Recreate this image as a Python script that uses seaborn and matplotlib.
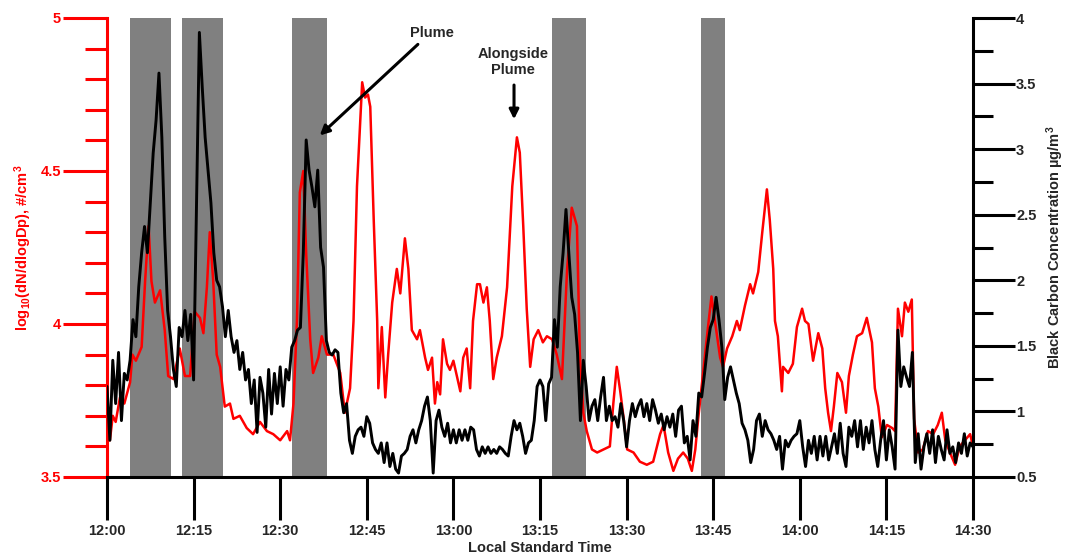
import matplotlib
matplotlib.use("Agg")
import matplotlib.pyplot as plt
from matplotlib.ticker import FixedLocator, MultipleLocator
import numpy as np
import pandas as pd
import seaborn as sns

# minutes after 12:00
time_labels = ["12:00", "12:15", "12:30", "12:45", "13:00", "13:15",
               "13:30", "13:45", "14:00", "14:15", "14:30"]
tick_minutes = [0, 15, 30, 45, 60, 75, 90, 105, 120, 135, 150]

# shaded plume-crossing periods (start, end) in minutes
band_start = [4.0, 13.0, 32.0, 77.1, 102.9]
band_end = [11.1, 20.1, 38.1, 83.0, 107.0]

# particle number, log10(dN/dlogDp)
red_min = [0, 0.5, 1, 1.5, 2.25, 3, 4, 4.4, 5, 6, 6.6, 7.2, 7.7, 8.3, 9.2, 10, 10.6, 11.5,
           12.6, 13.5, 14.4, 15.2, 16.1, 16.7, 17.3, 17.8, 18.4, 19.0, 19.6, 20.4, 21.3, 21.9,
           23, 24.2, 25.3, 26.5, 27.7, 28.8, 30, 31.2, 31.7, 32.3, 32.9, 33.4, 34, 34.5, 35.2,
           35.7, 36.6, 37.2, 38.1, 39.2, 40.4, 41.2, 42.1, 42.7, 43.3, 44.2, 44.7, 45.2, 45.6,
           46.2, 46.8, 47.0, 47.6, 48.2, 48.7, 49.4, 50.2, 50.8, 51.6, 52.2, 52.8, 53.7, 54.2,
           55.1, 55.6, 56.3, 56.8, 57.2, 57.7, 58.2, 58.9, 59.4, 60, 60.6, 61.2, 61.7, 62.3,
           62.9, 63.4, 64.1, 64.6, 65.2, 65.8, 66.3, 66.9, 67.5, 68.4, 69.3, 70.2, 71.0, 71.5,
           72.1, 72.7, 73.3, 73.9, 74.7, 75.5, 76.2, 77.1, 77.9, 78.8, 79.7, 80.5, 81.4, 81.9,
           82.5, 83.1, 84.0, 84.9, 86, 87.1, 87.7, 88.3, 88.9, 89.5, 90.1, 91.2, 92.3, 93.5,
           94.6, 95.8, 96.4, 97.2, 98.1, 98.9, 99.8, 100.6, 101.3, 101.9, 102.4, 103.3, 104.1,
           104.7, 105.3, 106.2, 106.7, 107.4, 108.3, 109.1, 109.6, 110.5, 111.4, 111.9, 112.8,
           113.5, 114.3, 114.8, 115.4, 115.7, 116.2, 116.9, 117.1, 118, 118.8, 119.5, 120.4,
           120.9, 121.5, 122.3, 123.2, 123.9, 124.4, 124.9, 125.4, 125.9, 126.5, 127.3, 128.0,
           128.5, 129.2, 129.9, 130.8, 131.6, 132.5, 133, 133.6, 134.2, 135.1, 136.0, 136.5,
           137.0, 137.7, 138.2, 138.8, 139.4, 139.8, 140.5, 141.3, 142.2, 143.1, 143.9, 144.6,
           145.2, 146, 146.9, 147.7, 148.6, 149.5, 150]
red_val = [3.66, 3.62, 3.70, 3.68, 3.76, 3.74, 3.81, 3.90, 3.88, 3.925, 4.14, 4.32, 4.14, 4.07,
           4.11, 3.98, 3.83, 3.82, 3.92, 3.83, 3.83, 4.04, 4.02, 3.97, 4.12, 4.30, 4.14, 3.90,
           3.86, 3.73, 3.74, 3.69, 3.70, 3.66, 3.64, 3.68, 3.65, 3.64, 3.62, 3.65, 3.62, 3.74,
           4.01, 4.43, 4.50, 4.23, 3.95, 3.84, 3.89, 3.96, 3.90, 3.90, 3.84, 3.71, 3.79, 4.01,
           4.45, 4.79, 4.74, 4.75, 4.71, 4.34, 4.01, 3.79, 3.99, 3.76, 3.90, 4.07, 4.18, 4.10,
           4.28, 4.18, 3.98, 3.95, 3.98, 3.89, 3.85, 3.89, 3.74, 3.81, 3.77, 3.95, 3.87, 3.85,
           3.88, 3.83, 3.78, 3.89, 3.92, 3.79, 4.01, 4.13, 4.13, 4.07, 4.12, 4.01, 3.82, 3.89,
           3.96, 4.12, 4.45, 4.61, 4.56, 4.32, 4.05, 3.86, 3.95, 3.98, 3.94, 3.96, 3.95, 3.90,
           3.82, 4.18, 4.38, 4.32, 3.90, 3.71, 3.65, 3.59, 3.58, 3.59, 3.60, 3.74, 3.86, 3.78,
           3.69, 3.59, 3.58, 3.55, 3.54, 3.55, 3.64, 3.67, 3.58, 3.52, 3.56, 3.58, 3.56, 3.52,
           3.59, 3.69, 3.85, 3.99, 4.09, 4.01, 3.89, 3.86, 3.92, 3.96, 4.01, 3.98, 4.06, 4.13,
           4.10, 4.17, 4.30, 4.44, 4.34, 4.18, 4.01, 3.96, 3.78, 3.86, 3.84, 3.87, 3.99, 4.05,
           4.01, 4.00, 3.88, 3.97, 3.92, 3.79, 3.71, 3.65, 3.73, 3.84, 3.81, 3.71, 3.83, 3.90,
           3.96, 3.97, 4.02, 3.94, 3.79, 3.73, 3.63, 3.67, 3.66, 3.65, 4.05, 3.96, 4.07, 4.04,
           4.08, 3.69, 3.58, 3.59, 3.65, 3.64, 3.67, 3.71, 3.62, 3.58, 3.54, 3.60, 3.62, 3.64,
           3.60]

# black carbon, ug/m3, every 0.5 min
bc_val = [1.19, 0.78, 1.39, 1.06, 1.45, 0.93, 1.29, 1.24, 1.39, 1.70,
          1.57, 1.95, 2.21, 2.41, 2.21, 2.59, 2.97, 3.22, 3.58, 3.09,
          2.33, 1.77, 1.57, 1.32, 1.19, 1.64, 1.57, 1.77, 1.54, 1.74,
          1.24, 2.59, 3.89, 3.47, 3.09, 2.84, 2.59, 2.21, 2.00, 1.95,
          1.80, 1.57, 1.77, 1.57, 1.45, 1.54, 1.32, 1.45, 1.24, 1.32,
          1.06, 1.24, 0.84, 1.26, 1.14, 0.88, 1.32, 0.98, 1.29, 1.06,
          1.34, 1.04, 1.32, 1.24, 1.49, 1.54, 1.62, 1.64, 2.21, 3.07,
          2.84, 2.71, 2.56, 2.84, 2.25, 2.10, 1.54, 1.45, 1.43, 1.47,
          1.45, 1.14, 0.99, 1.06, 0.78, 0.68, 0.81, 0.86, 0.88, 0.81,
          0.96, 0.91, 0.76, 0.71, 0.68, 0.76, 0.61, 0.76, 0.58, 0.68,
          0.56, 0.53, 0.66, 0.68, 0.71, 0.81, 0.86, 0.76, 0.86, 0.93,
          1.04, 1.11, 0.93, 0.53, 0.93, 1.01, 0.88, 0.81, 0.91, 0.76,
          0.86, 0.76, 0.86, 0.78, 0.86, 0.78, 0.88, 0.86, 0.71, 0.66,
          0.73, 0.68, 0.73, 0.68, 0.71, 0.68, 0.73, 0.71, 0.68, 0.66,
          0.81, 0.93, 0.86, 0.91, 0.81, 0.68, 0.76, 0.78, 0.93, 1.19,
          1.24, 1.19, 0.93, 1.21, 1.26, 1.70, 1.49, 1.95, 2.21, 2.54,
          2.21, 1.87, 1.74, 1.45, 0.93, 1.39, 1.19, 0.93, 1.04, 1.09,
          0.93, 1.11, 1.26, 0.93, 1.04, 0.93, 0.96, 0.88, 1.06, 0.93,
          0.73, 0.93, 1.06, 0.96, 1.04, 1.09, 0.96, 1.06, 0.93, 1.09,
          1.01, 0.91, 0.98, 0.86, 0.96, 0.88, 0.98, 0.81, 1.01, 1.04,
          0.76, 0.81, 0.63, 0.93, 0.81, 1.14, 1.11, 1.29, 1.49, 1.64,
          1.70, 1.87, 1.70, 1.49, 1.09, 1.26, 1.34, 1.24, 1.14, 1.06,
          0.91, 0.86, 0.78, 0.61, 0.71, 0.93, 0.98, 0.81, 0.93, 0.86,
          0.83, 0.78, 0.71, 0.81, 0.56, 0.78, 0.73, 0.78, 0.81, 0.83,
          0.93, 0.73, 0.58, 0.78, 0.68, 0.81, 0.63, 0.81, 0.66, 0.81,
          0.63, 0.73, 0.83, 0.68, 0.91, 0.68, 0.58, 0.88, 0.81, 0.93,
          0.73, 0.93, 0.71, 0.88, 0.76, 0.93, 0.71, 0.58, 0.78, 0.93,
          0.63, 0.86, 0.73, 0.56, 1.62, 1.19, 1.34, 1.26, 1.19, 1.45,
          0.61, 0.83, 0.56, 0.73, 0.83, 0.68, 0.86, 0.61, 0.81, 0.71,
          0.63, 0.86, 0.68, 0.73, 0.61, 0.76, 0.68, 0.83, 0.66, 0.76,
          0.73]
bc_min = np.arange(len(bc_val)) * 0.5

sns.set_style("ticks")
plt.rcParams["font.family"] = ["Liberation Sans", "DejaVu Sans"]
plt.rcParams["font.weight"] = "bold"
plt.rcParams["mathtext.fontset"] = "custom"
plt.rcParams["mathtext.rm"] = "Liberation Sans:bold"
plt.rcParams["mathtext.bf"] = "Liberation Sans:bold"
plt.rcParams["mathtext.default"] = "bf"

red_df = pd.DataFrame({"minute": red_min, "logN": red_val})
bc_df = pd.DataFrame({"minute": bc_min, "bc": bc_val})

fig = plt.figure(figsize=(10.65, 5.59), dpi=100)
ax = fig.add_axes([107 / 1065, 1 - 477 / 559, 866 / 1065, 459 / 559])
ax2 = ax.twinx()

for s, e in zip(band_start, band_end):
    ax.axvspan(s, e, color="#808080", lw=0, zorder=0)

sns.lineplot(data=red_df, x="minute", y="logN", ax=ax, color="#ff0000", lw=1.8, zorder=2)
sns.lineplot(data=bc_df, x="minute", y="bc", ax=ax2, color="black", lw=2.1)

ax.set_xlim(0, 150)
ax.set_ylim(3.5, 5)
ax2.set_ylim(0.5, 4)

red = "#ff0000"
for sp in ["top", "right"]:
    ax.spines[sp].set_visible(False)
for sp in ["top", "left", "bottom"]:
    ax2.spines[sp].set_visible(False)
ax.spines["left"].set_color(red)
ax.spines["left"].set_linewidth(2.2)
ax.spines["bottom"].set_color("black")
ax.spines["bottom"].set_linewidth(2.2)
ax2.spines["right"].set_color("black")
ax2.spines["right"].set_linewidth(2.2)

ax.xaxis.set_major_locator(FixedLocator(tick_minutes))
ax.set_xticklabels(time_labels)
ax.tick_params(axis="x", direction="out", length=31, width=2.2, color="black",
               labelsize=10.5, pad=3)
ax.yaxis.set_major_locator(MultipleLocator(0.5))
ax.yaxis.set_minor_locator(MultipleLocator(0.1))
ax.set_yticks([3.5, 4, 4.5, 5])
ax.set_yticklabels(["3.5", "4", "4.5", "5"])
ax.tick_params(axis="y", which="major", length=32, width=2.2, color=red,
               labelcolor=red, labelsize=10.5, pad=1)
ax.tick_params(axis="y", which="minor", length=16, width=2.2, color=red)

ax2.yaxis.set_major_locator(MultipleLocator(0.5))
ax2.yaxis.set_minor_locator(MultipleLocator(0.25))
ax2.set_yticks([0.5, 1, 1.5, 2, 2.5, 3, 3.5, 4])
ax2.set_yticklabels(["0.5", "1", "1.5", "2", "2.5", "3", "3.5", "4"])
ax2.tick_params(axis="y", which="major", length=30, width=2.2, color="black",
                labelsize=10.5, pad=1)
ax2.tick_params(axis="y", which="minor", length=14.5, width=2.2, color="black")

ax.set_xlabel("Local Standard Time", fontsize=10.5, fontweight="bold", labelpad=2)
ax.set_ylabel(r"log$_{10}$(dN/dlogDp), #/cm$^{3}$", fontsize=10.5, color=red,
              fontweight="bold", labelpad=5)
ax2.set_ylabel(r"Black Carbon Concentration µg/m$^{3}$", fontsize=10.5,
               fontweight="bold", labelpad=6)

arrow = dict(arrowstyle="-|>", color="black", lw=2.2, mutation_scale=14)
ax.annotate("", xy=(36.5, 4.61), xytext=(54.2, 4.92), arrowprops=arrow)
ax.text(56.3, 4.95, "Plume", fontsize=10.5, fontweight="bold", ha="center", va="center")
ax.text(70.3, 4.855, "Alongside\nPlume", fontsize=10.5, fontweight="bold",
        ha="center", va="center", linespacing=1.2)
ax.annotate("", xy=(70.5, 4.66), xytext=(70.5, 4.79), arrowprops=arrow)

fig.savefig("out.png", dpi=100)
